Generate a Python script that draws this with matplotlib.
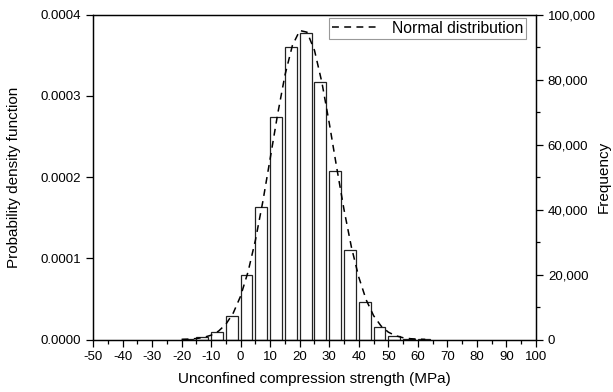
import matplotlib
matplotlib.use("Agg")
import matplotlib.pyplot as plt
from matplotlib.ticker import MultipleLocator, FuncFormatter

plt.rcParams['font.family'] = ['Liberation Sans', 'DejaVu Sans']
plt.rcParams['axes.unicode_minus'] = False

# Histogram bins (left edge, MPa) and frequencies
bin_left = [-20, -15, -10, -5, 0, 5, 10, 15, 20, 25, 30, 35, 40, 45, 50, 55, 60]
frequency = [150, 680, 2200, 7300, 19750, 40860, 68370, 89900, 94400, 79300,
             51850, 27540, 11540, 3850, 985, 250, 100]

# Normal distribution curve
curve_x = [-20, -17.5, -15, -12.5, -10, -7.5, -5, -2.5, 0, 2.5, 5, 7.5, 10, 12.5,
           15, 17.5, 20, 22.5, 25, 27.5, 30, 32.5, 35, 37.5, 40, 42.5, 45, 47.5,
           50, 52.5, 55, 57.5, 60, 62.5]
curve_pdf = [2.2e-7, 5.2e-7, 1.19e-6, 2.6e-6, 5.3e-6, 1.03e-5, 1.88e-5, 3.27e-5,
             5.36e-5, 8.33e-5, 1.223e-4, 1.697e-4, 2.229e-4, 2.769e-4, 3.254e-4,
             3.617e-4, 3.803e-4, 3.782e-4, 3.558e-4, 3.165e-4, 2.663e-4, 2.12e-4,
             1.597e-4, 1.137e-4, 7.66e-5, 4.88e-5, 2.94e-5, 1.68e-5, 9.05e-6,
             4.6e-6, 2.2e-6, 1.0e-6, 4.4e-7, 1.8e-7]

fig = plt.figure(figsize=(6.13, 3.92), dpi=100)
ax = fig.add_axes([0.1517, 0.1339, 0.7227, 0.8291])
ax2 = ax.twinx()

ax2.bar(bin_left, frequency, width=4, align='edge', facecolor='white',
        edgecolor='#222222', linewidth=0.9)
ax.plot(curve_x, curve_pdf, linestyle=(0, (4.5, 3.5)), color='black', linewidth=1.1,
        label='Normal distribution')

ax.set_zorder(ax2.get_zorder() + 1)
ax.patch.set_visible(False)

ax.set_xlim(-50, 100)
ax.set_ylim(0, 0.0004)
ax2.set_ylim(0, 100000)

ax.xaxis.set_major_locator(MultipleLocator(10))
ax.xaxis.set_minor_locator(MultipleLocator(5))
ax.yaxis.set_major_locator(MultipleLocator(0.0001))
ax.yaxis.set_major_formatter(FuncFormatter(lambda v, p: f"{v:.4f}"))
ax2.yaxis.set_major_locator(MultipleLocator(20000))
ax2.yaxis.set_minor_locator(MultipleLocator(10000))
ax2.yaxis.set_major_formatter(FuncFormatter(lambda v, p: f"{int(round(v)):,}"))

ax.tick_params(axis='x', which='major', direction='out', length=5, width=0.9, labelsize=9.5, top=False)
ax.tick_params(axis='x', which='minor', direction='out', length=3, width=0.9, top=False)
ax.tick_params(axis='y', which='major', direction='out', length=5, width=0.9, labelsize=9.5)
ax2.tick_params(axis='y', which='major', direction='out', length=5, width=0.9, labelsize=9.5)
ax2.tick_params(axis='y', which='minor', direction='out', length=3, width=0.9)

for a in (ax, ax2):
    for s in a.spines.values():
        s.set_linewidth(0.9)

ax.set_xlabel('Unconfined compression strength (MPa)', fontsize=11, labelpad=6)
ax.set_ylabel('Probability density function', fontsize=11, labelpad=14)
ax2.set_ylabel('Frequency', fontsize=11, labelpad=1)

leg = ax.legend(loc='upper right', fontsize=11.3, frameon=True, fancybox=False,
                edgecolor='#999999', framealpha=1, borderpad=0.2, handlelength=3.0,
                handletextpad=0.8, bbox_to_anchor=(0.985, 1.0), borderaxespad=0.2)
leg.get_frame().set_linewidth(0.8)

fig.savefig('out.png', dpi=100)
